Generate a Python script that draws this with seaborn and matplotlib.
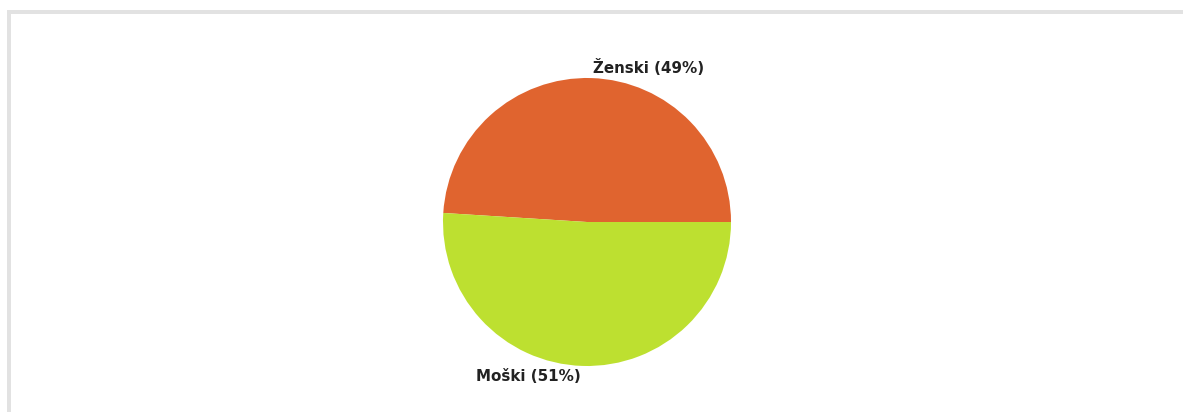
import matplotlib
matplotlib.use("Agg")
import matplotlib.pyplot as plt
from matplotlib.patches import Rectangle
import seaborn as sns

categories = ["Ženski", "Moški"]
shares = [49, 51]
slice_colors = ["#E0642F", "#BDE030"]

sns.set_theme(style="white")
plt.rcParams["font.family"] = ["DejaVu Sans"]

W, H = 1183, 412
fig = plt.figure(figsize=(W / 100, H / 100), dpi=100)
fig.patch.set_facecolor("white")

# light frame along the top and left edges
fig.add_artist(Rectangle((7 / W, 1 - 14 / H), 1 - 7 / W, 4 / H,
                         transform=fig.transFigure, color="#E2E2E2", lw=0))
fig.add_artist(Rectangle((7 / W, 0), 4 / W, 1 - 10 / H,
                         transform=fig.transFigure, color="#E2E2E2", lw=0))

cx, cy, r = 587, 222, 144
ax = fig.add_axes([(cx - r) / W, (H - cy - r) / H, 2 * r / W, 2 * r / H])
ax.pie(shares, colors=slice_colors, startangle=0, counterclock=True,
       radius=1, wedgeprops=dict(linewidth=0))
ax.set_xlim(-1, 1)
ax.set_ylim(-1, 1)
ax.axis("off")

labels = [f"{c} ({v}%)" for c, v in zip(categories, shares)]
ax.text(0.04, 1.07, labels[0], ha="left", va="center", fontsize=10.9,
        fontweight="bold", color="#222222", clip_on=False)
ax.text(-0.77, -1.076, labels[1], ha="left", va="center", fontsize=10.9,
        fontweight="bold", color="#222222", clip_on=False)

fig.savefig("out.png", dpi=100, facecolor="white")
